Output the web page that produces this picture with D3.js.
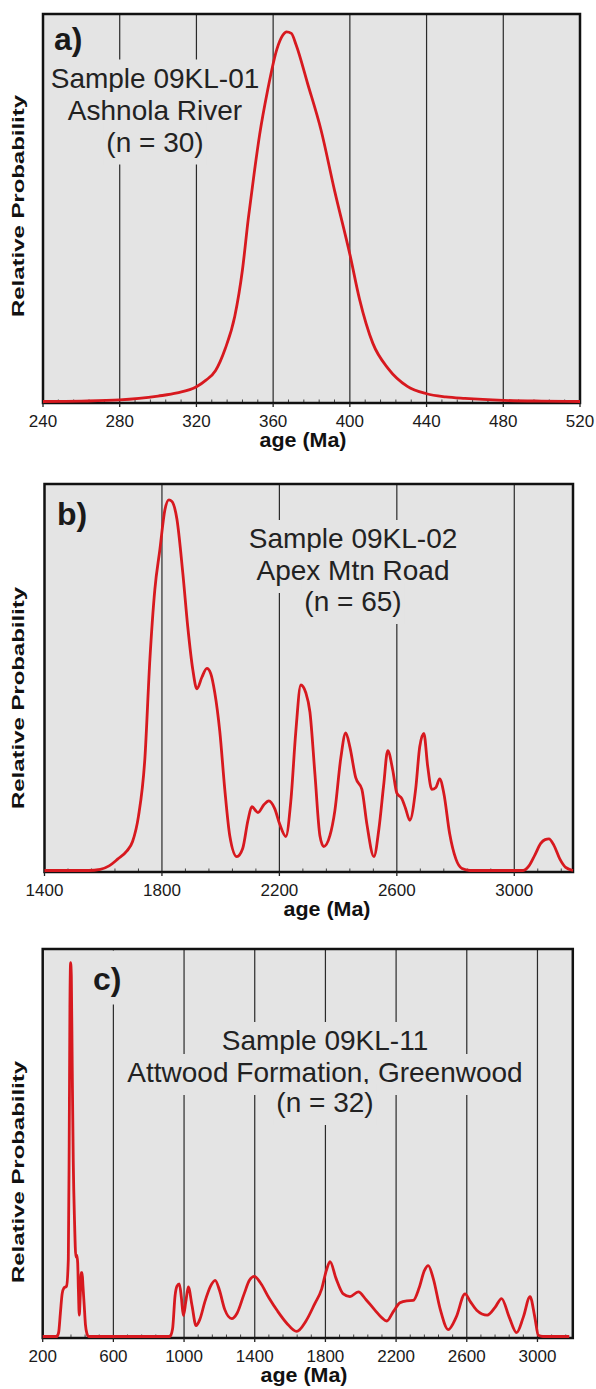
<!DOCTYPE html>
<html><head><meta charset="utf-8">
<script src="https://cdn.jsdelivr.net/npm/d3@7"></script>
<style>html,body{margin:0;padding:0;background:#fff}</style>
</head><body>
<svg id="chart" width="596" height="1389"></svg>
<script>
// ---------- DATA ----------
// Panel a) Sample 09KL-01
const agesA = [240,260,280,290,300,310,320,325,330,335,340,344,347,350,353,357,362,365,367,369.5,372,378,385,392,400,405,412,420,430,440,450,460,480,500,520];
const probA = [0,0.001,0.004,0.008,0.014,0.022,0.038,0.055,0.08,0.136,0.22,0.34,0.47,0.585,0.69,0.80,0.91,0.945,0.954,0.95,0.92,0.82,0.70,0.545,0.38,0.265,0.15,0.085,0.039,0.02,0.012,0.008,0.003,0.001,0];
const ticksA = [240,280,320,360,400,440,480,520];
const gridA = [280,320,360,400,440,480];
const linesA = ["Sample 09KL-01","Ashnola River","(n = 30)"];

// Panel b) Sample 09KL-02
const agesB = [1400,1550,1590,1620,1650,1680,1700,1720,1741.8,1758.9,1775.8,1792.9,1810,1823.5,1833.8,1850.8,1871,1888,1905,1919,1936,1953,1966,1980,1997,2014,2031,2055,2075,2093,2106,2127,2147,2164,2184,2201,2222,2239,2256,2273,2290,2304,2321,2338,2351,2372,2389,2409,2426,2440,2460,2481,2498,2522,2539,2555,2569,2586,2600,2617,2630,2644,2664,2678,2692,2705,2719,2733,2746,2760,2780,2801,2822,2849,3030,3050,3070,3090,3105,3118,3135,3155,3175,3200];
const probB = [0,0,0.003,0.012,0.03,0.05,0.075,0.14,0.289,0.546,0.727,0.83,0.933,0.959,0.955,0.91,0.77,0.63,0.52,0.47,0.5,0.523,0.51,0.46,0.36,0.21,0.09,0.036,0.057,0.13,0.165,0.15,0.17,0.18,0.16,0.12,0.088,0.18,0.36,0.48,0.46,0.41,0.25,0.09,0.062,0.09,0.155,0.29,0.356,0.32,0.24,0.21,0.12,0.036,0.108,0.22,0.31,0.26,0.2,0.186,0.16,0.13,0.21,0.32,0.355,0.27,0.21,0.215,0.237,0.2,0.095,0.03,0.005,0,0,0.012,0.04,0.07,0.08,0.082,0.065,0.03,0.008,0];
const ticksB = [1400,1800,2200,2600,3000];
const gridB = [1800,2200,2600,3000];
const linesB = ["Sample 09KL-02","Apex Mtn Road","(n = 65)"];

// Panel c) Sample 09KL-11
const agesC = [200,280,290,300,310,320,335,345,350,354,358,362,367,373,380,388,393,398,402,407,412,418,423,428,435,442,450,460,920,935,949,960,973,985,996,1010,1024,1045,1068,1090,1118,1150,1176,1200,1230,1270,1300,1340,1370,1398,1430,1480,1530,1580,1637,1690,1740,1779,1805,1826,1860,1901,1939,1986,2030,2080,2120,2147,2185,2222,2260,2297,2330,2360,2382,2410,2450,2495,2540,2590,2620,2656,2716,2760,2797,2840,2882,2920,2958,2985,3005,3030,3180];
const probC = [0,0,0.01,0.06,0.11,0.125,0.13,0.2,0.5,0.85,0.965,0.93,0.7,0.45,0.3,0.205,0.21,0.19,0.12,0.055,0.1,0.165,0.165,0.13,0.08,0.03,0.008,0,0,0.02,0.105,0.13,0.136,0.1,0.054,0.09,0.128,0.08,0.028,0.045,0.09,0.13,0.145,0.12,0.07,0.046,0.06,0.11,0.145,0.155,0.14,0.1,0.065,0.035,0.013,0.04,0.085,0.123,0.17,0.193,0.15,0.11,0.103,0.115,0.095,0.068,0.048,0.04,0.065,0.087,0.092,0.093,0.125,0.17,0.183,0.15,0.07,0.018,0.05,0.11,0.09,0.068,0.055,0.075,0.098,0.05,0.01,0.05,0.103,0.05,0.003,0,0];
const ticksC = [200,600,1000,1400,1800,2200,2600,3000];
const gridC = [600,1000,1400,1800,2200,2600,3000];
const linesC = ["Sample 09KL-11","Attwood Formation, Greenwood","(n = 32)"];

const tags = ["a)","b)","c)"];
const yTitle = "Relative Probability";
const xTitle = "age (Ma)";

// ---------- LAYOUT ----------
const FONT = "'Liberation Sans', Arial, Helvetica, sans-serif";
const BG = "#e4e4e4";
const RED = "#d7191f";

const panels = [
  {ages:agesA, probs:probA, domain:[240,520], ticks:ticksA, grid:gridA, lines:linesA, tag:tags[0],
   box:{l:43,r:580,t:14,b:403}, tagPos:[54,50], textX:155, baselines:[87.5,120,151.5], yLabelY:206, xTitleX:303},
  {ages:agesB, probs:probB, domain:[1400,3200], ticks:ticksB, grid:gridB, lines:linesB, tag:tags[1],
   box:{l:44.5,r:573,t:484,b:872}, tagPos:[57,525], textX:353, baselines:[548,580,611], yLabelY:698, xTitleX:327},
  {ages:agesC, probs:probC, domain:[200,3200], ticks:ticksC, grid:gridC, lines:linesC, tag:tags[2],
   box:{l:42.7,r:572.8,t:949,b:1338}, tagPos:[93,990], textX:325, baselines:[1050,1082,1112], yLabelY:1172, xTitleX:304}
];

const svg = d3.select("#chart");

panels.forEach(p => {
  const b = p.box;
  const x = d3.scaleLinear().domain(p.domain).range([b.l, b.r]);
  const y = d3.scaleLinear().domain([0,1]).range([b.b - 1.5, b.t]);
  const g = svg.append("g");

  // background
  g.append("rect").attr("x", b.l).attr("y", b.t).attr("width", b.r - b.l).attr("height", b.b - b.t)
    .attr("fill", BG);

  // grid lines
  g.append("g").selectAll("line").data(p.grid).join("line")
    .attr("x1", d => x(d)).attr("x2", d => x(d)).attr("y1", b.t).attr("y2", b.b)
    .attr("stroke", "#2a2a2a").attr("stroke-width", 1.2);

  // minor ticks (5 subdivisions per major interval)
  const step = (p.ticks[1] - p.ticks[0]) / 5;
  const minor = d3.range(p.domain[0] + step, p.domain[1], step).filter(v => !p.ticks.some(t => Math.abs(t - v) < 1e-6));
  g.append("g").selectAll("line").data(minor).join("line")
    .attr("x1", d => x(d)).attr("x2", d => x(d)).attr("y1", b.b).attr("y2", b.b - 3.5)
    .attr("stroke", "#444").attr("stroke-width", 1);

  // panel tag with background
  const tagText = g.append("text").attr("x", p.tagPos[0]).attr("y", p.tagPos[1])
    .attr("font-family", FONT).attr("font-weight", "bold").attr("font-size", 32).attr("fill", "#1a1a1a")
    .text(p.tag);
  const tb = tagText.node().getBBox();
  g.insert("rect", () => tagText.node()).attr("x", tb.x - 3).attr("y", b.t + 1.5)
    .attr("width", tb.width + 6).attr("height", tb.y + tb.height + 6 - b.t).attr("fill", BG);

  // sample text with per-line backgrounds
  p.lines.forEach((s, i) => {
    const t = g.append("text").attr("x", p.textX).attr("y", p.baselines[i])
      .attr("text-anchor", "middle").attr("font-family", FONT).attr("font-size", 28).attr("fill", "#222")
      .text(s);
    const bb = t.node().getBBox();
    g.insert("rect", () => t.node()).attr("x", bb.x - 3).attr("y", bb.y - 3)
      .attr("width", bb.width + 6).attr("height", bb.height + 10).attr("fill", BG);
  });

  // border
  g.append("rect").attr("x", b.l).attr("y", b.t).attr("width", b.r - b.l).attr("height", b.b - b.t)
    .attr("fill", "none").attr("stroke", "#111").attr("stroke-width", 2.5);

  // major ticks below axis
  g.append("g").selectAll("line").data(p.ticks).join("line")
    .attr("x1", d => x(d)).attr("x2", d => x(d)).attr("y1", b.b).attr("y2", b.b + 4)
    .attr("stroke", "#222").attr("stroke-width", 1.3);

  // tick labels
  g.append("g").selectAll("text").data(p.ticks).join("text")
    .attr("x", d => x(d)).attr("y", b.b + 24).attr("text-anchor", "middle")
    .attr("font-family", FONT).attr("font-size", 17).attr("fill", "#1a1a1a")
    .text(d => d);

  // x title
  g.append("text").attr("x", p.xTitleX).attr("y", b.b + 44).attr("text-anchor", "middle")
    .attr("font-family", FONT).attr("font-weight", "bold").attr("font-size", 19.5).attr("fill", "#111")
    .attr("textLength", 87).attr("lengthAdjust", "spacingAndGlyphs")
    .text(xTitle);

  // y title
  g.append("text").attr("transform", `translate(23.5,${p.yLabelY}) rotate(-90)`)
    .attr("text-anchor", "middle").attr("font-family", FONT).attr("font-weight", "bold")
    .attr("font-size", 17).attr("fill", "#111")
    .attr("textLength", 222).attr("lengthAdjust", "spacingAndGlyphs")
    .text(yTitle);

  // curve
  const pts = p.ages.map((a, i) => [a, p.probs[i]]);
  const line = d3.line().x(d => x(d[0])).y(d => y(d[1])).curve(d3.curveMonotoneX);
  g.append("path").datum(pts).attr("d", line).attr("fill", "none")
    .attr("stroke", RED).attr("stroke-width", 2.8).attr("stroke-linejoin", "round");
});
</script>
</body></html>
